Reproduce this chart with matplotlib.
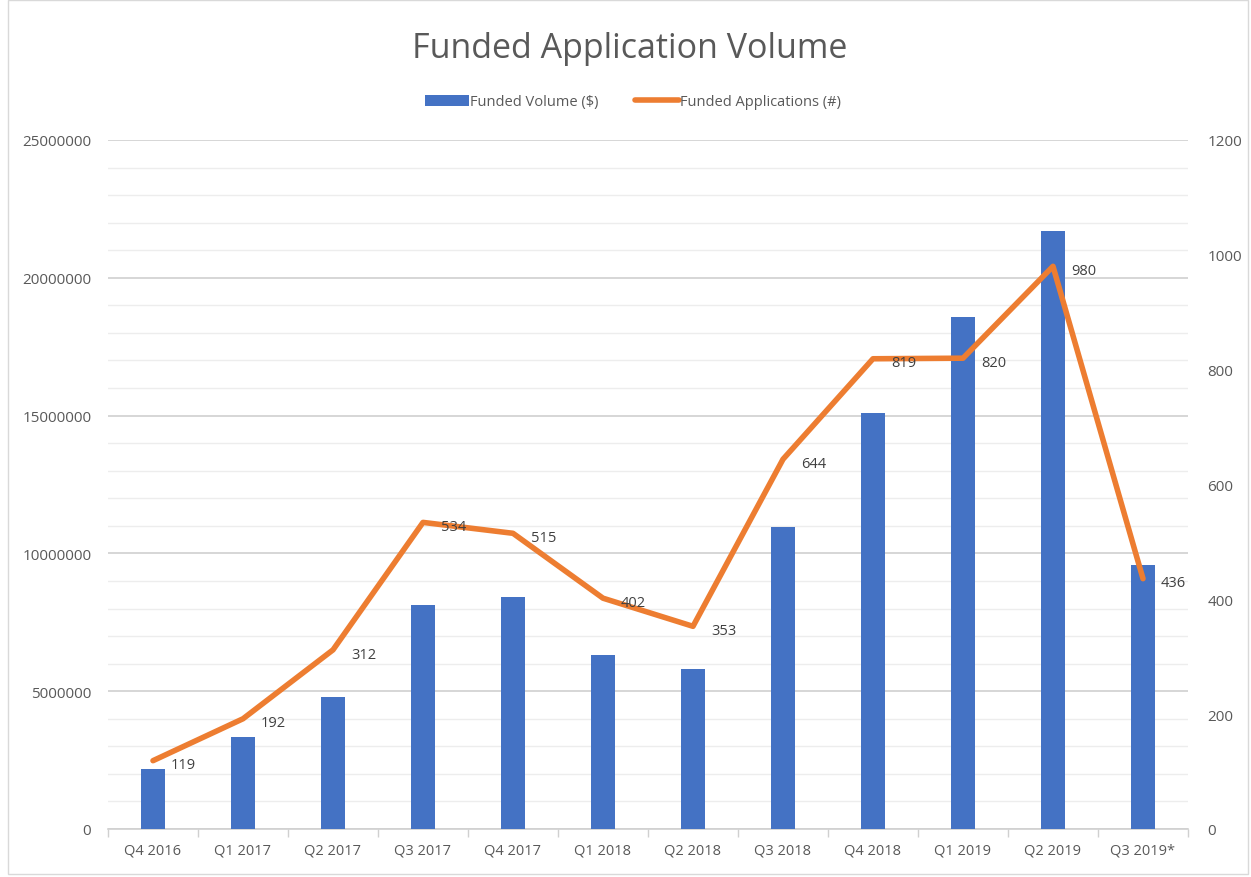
import numpy as np
import matplotlib.pyplot as plt
from matplotlib.ticker import MultipleLocator
from matplotlib.patches import Rectangle

plt.rcParams['font.family'] = ['Open Sans', 'DejaVu Sans']

# 数据
quarters = ['Q4 2016', 'Q1 2017', 'Q2 2017', 'Q3 2017', 'Q4 2017', 'Q1 2018',
            'Q2 2018', 'Q3 2018', 'Q4 2018', 'Q1 2019', 'Q2 2019', 'Q3 2019*']
volume = [2180000, 3340000, 4790000, 8130000, 8420000, 6310000,
          5810000, 10960000, 15090000, 18580000, 21700000, 9580000]
applications = [119, 192, 312, 534, 515, 402, 353, 644, 819, 820, 980, 436]

blue = '#4472C4'
orange = '#ED7D31'
txt = '#595959'

fig = plt.figure(figsize=(12.51, 8.78), dpi=100)
ax = fig.add_axes([108 / 1251, 48 / 878, 1080 / 1251, 689 / 878])
ax2 = ax.twinx()

x = np.arange(len(quarters))
ax.bar(x, volume, width=0.27, color=blue, zorder=3, label='Funded Volume ($)')
ax2.plot(x, applications, color=orange, lw=4, solid_capstyle='round',
         solid_joinstyle='round', zorder=4, label='Funded Applications (#)')
for xi, v in zip(x, applications):
    ax2.annotate(str(v), (xi, v), xytext=(13, -3), textcoords='offset points',
                 ha='left', va='center', fontsize=10.5, color='#404040', zorder=6)

ax.set_xlim(-0.5, len(quarters) - 0.5)
ax.set_ylim(0, 25000000)
ax2.set_ylim(0, 1200)
ax.yaxis.set_major_locator(MultipleLocator(5000000))
ax.yaxis.set_minor_locator(MultipleLocator(1000000))
ax2.yaxis.set_major_locator(MultipleLocator(200))
ax.yaxis.set_major_formatter(lambda v, p: f'{int(v)}')

ax.grid(axis='y', which='major', color='#D0D0D0', lw=1.2, zorder=0)
ax.grid(axis='y', which='minor', color='#EDEDED', lw=1.0, zorder=0)
ax.set_axisbelow(True)

ax.set_xticks(x)
ax.set_xticklabels(quarters)
ax.set_xticks(np.arange(len(quarters) + 1) - 0.5, minor=True)
ax.tick_params(axis='x', which='major', length=0, pad=10, labelsize=10.5, labelcolor=txt)
ax.tick_params(axis='x', which='minor', length=6, color='#D0D0D0', width=1)
ax.tick_params(axis='y', which='both', length=0, pad=12, labelsize=11, labelcolor=txt)
ax2.tick_params(axis='y', length=0, pad=14, labelsize=11, labelcolor=txt)

for a in (ax, ax2):
    for s in a.spines.values():
        s.set_visible(False)
ax.spines['bottom'].set_visible(True)
ax.spines['bottom'].set_color('#D0D0D0')
ax.spines['bottom'].set_linewidth(1.2)

fig.text(630 / 1251, 1 - 49 / 878, 'Funded Application Volume', ha='center', va='center',
         fontsize=24.5, color=txt)

h1, l1 = ax.get_legend_handles_labels()
h2, l2 = ax2.get_legend_handles_labels()
fig.legend(h1 + h2, l1 + l2, loc='center', bbox_to_anchor=(633 / 1251, 1 - 103 / 878),
           ncol=2, frameon=False, fontsize=10.5, labelcolor=txt, handlelength=3.0,
           handletextpad=0.1, columnspacing=2.5)

fig.patches.append(Rectangle((8 / 1251, 3 / 878), 1240 / 1251, 874 / 878,
                             transform=fig.transFigure, fill=False,
                             edgecolor='#D9D9D9', lw=1))

fig.savefig('out.png', dpi=100)
